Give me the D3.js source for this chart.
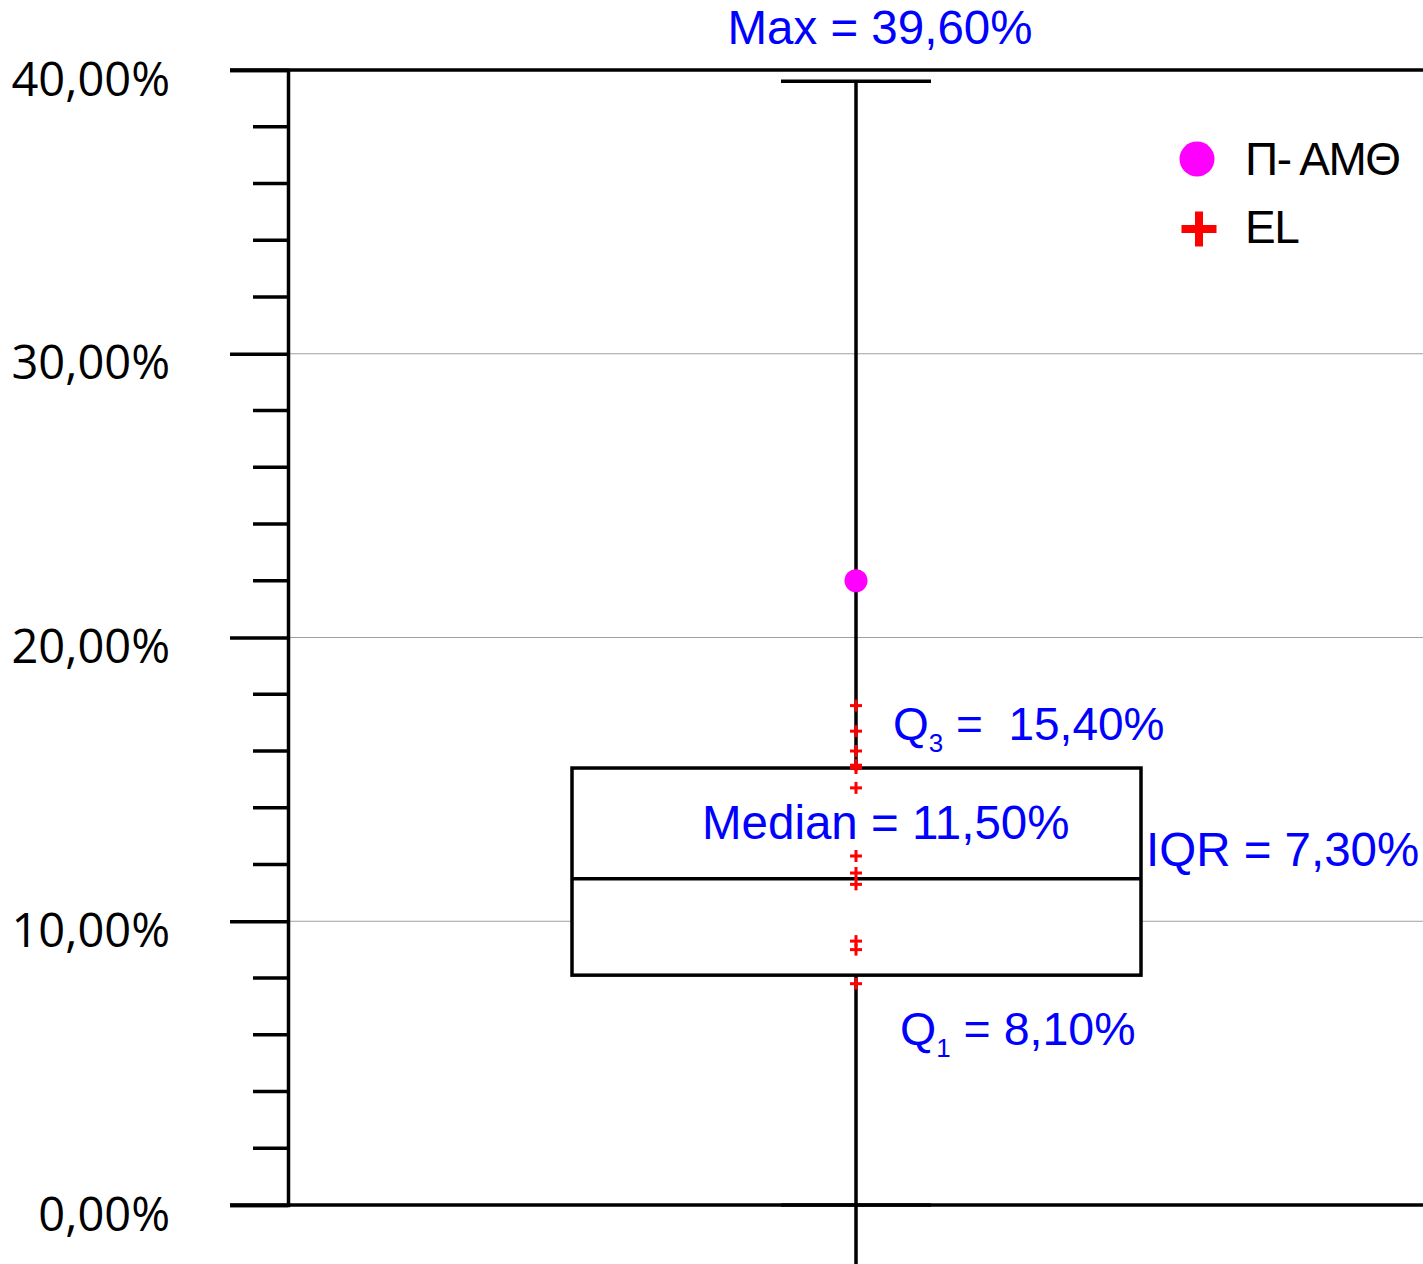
<!DOCTYPE html>
<html>
<head>
<meta charset="utf-8">
<script src="https://cdn.jsdelivr.net/npm/d3@7"></script>
<style>
  body { margin: 0; background: #fff; }
  svg { display: block; }
</style>
</head>
<body>
<div id="chart"></div>
<script>
// box plot summary (percent)
const stats = { q1: 8.1, median: 11.5, q3: 15.4, max: 39.6, min: 0 };
const statLabels = ["Max = 39,60%", "Median = 11,50%", "IQR = 7,30%"];
const regionValue = [22.0]; // Π-ΑΜΘ
const elValues = [17.6, 16.7, 16.0, 15.5, 15.4, 14.7, 12.3, 11.7, 11.3, 9.3, 9.0, 7.8];
const yTicks = [0, 10, 20, 30, 40];
const legendNames = ["Π-ΑΜΘ", "EL"];

const width = 1423, height = 1264;
const blue = "#0000ff";
const sw = 3.5;

const svg = d3.select("#chart").append("svg")
  .attr("width", width)
  .attr("height", height);

const y = d3.scaleLinear().domain([0, 40]).range([1205, 70]);
const cx = 856;

// gridlines
svg.append("g")
  .selectAll("line")
  .data(yTicks.filter(d => d > 0 && d < 40))
  .join("line")
  .attr("x1", 288).attr("x2", width)
  .attr("y1", d => y(d)).attr("y2", d => y(d))
  .attr("stroke", "#a0a0a0").attr("stroke-width", 1);

// top and bottom frame lines
svg.append("g")
  .selectAll("line")
  .data([0, 40])
  .join("line")
  .attr("x1", 230).attr("x2", width)
  .attr("y1", d => y(d)).attr("y2", d => y(d))
  .attr("stroke", "#000").attr("stroke-width", sw);

// y axis
const yAxis = d3.axisLeft(y)
  .tickValues(yTicks)
  .tickSize(58)
  .tickPadding(60)
  .tickFormat(d => d3.format(".2f")(d).replace(".", ",") + "%");

const ag = svg.append("g")
  .attr("transform", "translate(288,0)")
  .call(yAxis);
ag.select(".domain").attr("stroke", "#000").attr("stroke-width", sw);
ag.selectAll(".tick line").attr("stroke", "#000").attr("stroke-width", sw);
ag.selectAll(".tick text")
  .attr("font-family", "'Open Sans', 'Liberation Sans', sans-serif")
  .attr("font-size", 47)
  .attr("fill", "#000")
  .attr("dy", 25)
  .attr("x", -118);

// minor ticks every 2%
svg.append("g")
  .selectAll("line")
  .data(d3.range(2, 40, 2).filter(d => d % 10 !== 0))
  .join("line")
  .attr("x1", 253).attr("x2", 288)
  .attr("y1", d => y(d)).attr("y2", d => y(d))
  .attr("stroke", "#000").attr("stroke-width", sw);

// whisker
svg.append("line")
  .attr("x1", cx).attr("x2", cx)
  .attr("y1", y(stats.max)).attr("y2", height)
  .attr("stroke", "#000").attr("stroke-width", sw);
svg.append("g")
  .selectAll("line")
  .data([stats.max, stats.min])
  .join("line")
  .attr("x1", cx - 75).attr("x2", cx + 75)
  .attr("y1", d => y(d)).attr("y2", d => y(d))
  .attr("stroke", "#000").attr("stroke-width", sw);

// box
svg.append("rect")
  .attr("x", 572).attr("width", 1141 - 572)
  .attr("y", y(stats.q3)).attr("height", y(stats.q1) - y(stats.q3))
  .attr("fill", "#fff").attr("stroke", "#000").attr("stroke-width", sw);
svg.append("line")
  .attr("x1", 572).attr("x2", 1141)
  .attr("y1", y(stats.median)).attr("y2", y(stats.median))
  .attr("stroke", "#000").attr("stroke-width", sw);

// EL crosses
const cross = (g, s, w) => {
  g.append("line").attr("x1", -s).attr("x2", s).attr("y1", 0).attr("y2", 0)
    .attr("stroke", "#ff0000").attr("stroke-width", w);
  g.append("line").attr("x1", 0).attr("x2", 0).attr("y1", -s).attr("y2", s)
    .attr("stroke", "#ff0000").attr("stroke-width", w);
};
svg.append("g")
  .selectAll("g")
  .data(elValues)
  .join("g")
  .attr("transform", d => `translate(${cx},${y(d)})`)
  .each(function () { cross(d3.select(this), 6, 3); });

// region point
svg.append("g")
  .selectAll("circle")
  .data(regionValue)
  .join("circle")
  .attr("cx", cx).attr("cy", d => y(d))
  .attr("r", 11.5)
  .attr("fill", "#ff00ff");

// annotations
const ann = svg.append("g")
  .attr("font-family", "'Liberation Sans', Arial, sans-serif")
  .attr("font-size", 47.5)
  .attr("fill", blue);

ann.append("text").attr("x", 880).attr("y", 44).attr("text-anchor", "middle").text(statLabels[0]);
ann.append("text").attr("x", 702).attr("y", 839).text(statLabels[1]);
ann.append("text").attr("x", 1146).attr("y", 866).text(statLabels[2]);

const q3t = ann.append("text").attr("x", 893).attr("y", 740).attr("font-size", 46);
q3t.append("tspan").text("Q");
q3t.append("tspan").attr("font-size", 26).attr("dy", 12).text("3");
q3t.append("tspan").attr("dy", -12).attr("xml:space", "preserve").text(" =  15,40%");

const q1t = ann.append("text").attr("x", 900).attr("y", 1045).attr("font-size", 46.5);
q1t.append("tspan").text("Q");
q1t.append("tspan").attr("font-size", 26).attr("dy", 12).text("1");
q1t.append("tspan").attr("dy", -12).text(" = 8,10%");

// legend
const lg = svg.append("g")
  .attr("font-family", "'Liberation Sans', Arial, sans-serif")
  .attr("font-size", 46)
  .attr("letter-spacing", -1.5)
  .attr("fill", "#000");
lg.append("circle").attr("cx", 1197).attr("cy", 159).attr("r", 17.5).attr("fill", "#ff00ff");
const lc = lg.append("g").attr("transform", "translate(1199,229)");
cross(lc, 17.5, 8);
lg.selectAll("text")
  .data(legendNames)
  .join("text")
  .attr("x", 1245)
  .attr("y", (d, i) => 175 + i * 68)
  .text(d => d.replace("-", "- "));
</script>
</body>
</html>
